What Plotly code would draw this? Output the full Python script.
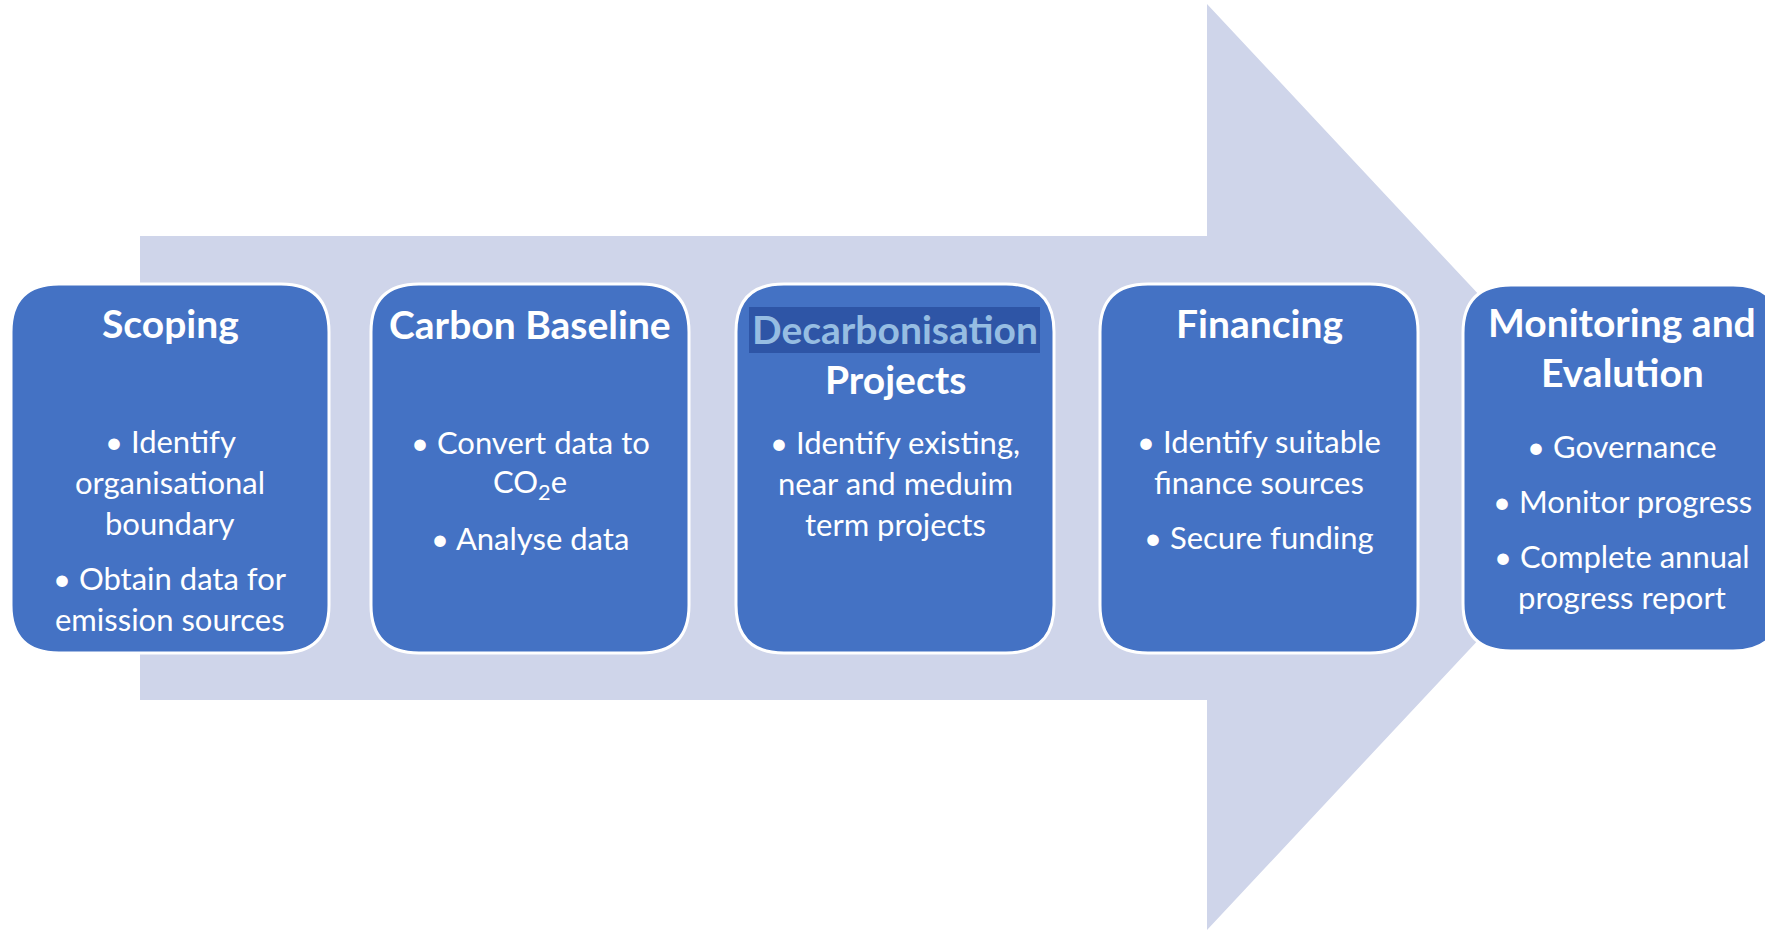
import plotly.graph_objects as go

W, H = 1765, 930

# ---- content ----
stage_titles = [["Scoping"], ["Carbon Baseline"], ["Decarbonisation", "Projects"],
                ["Financing"], ["Monitoring and", "Evalution"]]
stage_bullets = [
    [["Identify", "organisational", "boundary"], ["Obtain data for", "emission sources"]],
    [["Convert data to", "CO<sub>2</sub>e"], ["Analyse data"]],
    [["Identify existing,", "near and meduim", "term projects"]],
    [["Identify suitable", "finance sources"], ["Secure funding"]],
    [["Governance"], ["Monitor progress"], ["Complete annual", "progress report"]],
]

# ---- layout / style ----
box_left = [11, 371, 736, 1100, 1463]
box_w = 318
box_top = [284, 284, 284, 284, 285]
box_bot = [653, 653, 653, 653, 651]
title_y0 = [323, 324, 329, 323, 322]
body_y0 = [441, 442, 442, 441, 446]
TITLE_STEP, LINE_STEP, PARA_GAP = 50, 41, 14
RADIUS = 48
BOX_COLOR = "#4472C4"
ARROW_COLOR = "#CFD5EA"
FONT = "Lato"
TITLE_SIZE, BODY_SIZE = 39, 31

arrow_pts = [(140, 236), (1207, 236), (1207, 4), (1640, 467), (1207, 930),
             (1207, 700), (140, 700)]


def rrect(x0, y0, x1, y1, r):
    return (f"M{x0+r},{y0} L{x1-r},{y0} Q{x1},{y0} {x1},{y0+r} "
            f"L{x1},{y1-r} Q{x1},{y1} {x1-r},{y1} L{x0+r},{y1} "
            f"Q{x0},{y1} {x0},{y1-r} L{x0},{y0+r} Q{x0},{y0} {x0+r},{y0} Z")


shapes = []
shapes.append(dict(type="path", xref="x", yref="y",
                   path="M" + " L".join(f"{x},{y}" for x, y in arrow_pts) + " Z",
                   fillcolor=ARROW_COLOR, line=dict(width=0), layer="below"))
for i in range(5):
    x0 = box_left[i]
    shapes.append(dict(type="path", xref="x", yref="y",
                       path=rrect(x0, box_top[i], x0 + box_w, box_bot[i], RADIUS),
                       fillcolor=BOX_COLOR, line=dict(color="white", width=3),
                       layer="above"))
# highlight behind "Decarbonisation"
shapes.append(dict(type="rect", xref="x", yref="y", x0=749, x1=1040, y0=307, y1=353,
                   fillcolor="#2E55A6", line=dict(width=0), layer="above"))

annotations = []
for i in range(5):
    cx = box_left[i] + box_w / 2
    for j, t in enumerate(stage_titles[i]):
        color = "white"
        if i == 2 and j == 0:
            color = "#96BDE2"
        annotations.append(dict(x=cx, y=title_y0[i] + j * TITLE_STEP, xref="x", yref="y",
                                text=f"<b>{t}</b>", showarrow=False,
                                xanchor="center", yanchor="middle",
                                font=dict(family=FONT, size=TITLE_SIZE, color=color)))
    y = body_y0[i]
    for para in stage_bullets[i]:
        for k, line in enumerate(para):
            txt = ("• " + line) if k == 0 else line
            annotations.append(dict(x=cx, y=y, xref="x", yref="y", text=txt,
                                    showarrow=False, xanchor="center", yanchor="middle",
                                    font=dict(family=FONT, size=BODY_SIZE, color="white")))
            y += LINE_STEP
        y += PARA_GAP

fig = go.Figure()
fig.add_trace(go.Scatter(x=[0, W], y=[0, H], mode="markers",
                         marker=dict(opacity=0), hoverinfo="skip", showlegend=False))
fig.update_layout(
    width=W, height=H, margin=dict(l=0, r=0, t=0, b=0),
    paper_bgcolor="white", plot_bgcolor="white",
    xaxis=dict(range=[0, W], visible=False, fixedrange=True),
    yaxis=dict(range=[H, 0], visible=False, fixedrange=True),
    shapes=shapes, annotations=annotations, showlegend=False,
)
fig.write_html("out.html", config={"displayModeBar": False},
               post_script="document.body.style.margin='0';document.body.style.overflow='hidden';")
